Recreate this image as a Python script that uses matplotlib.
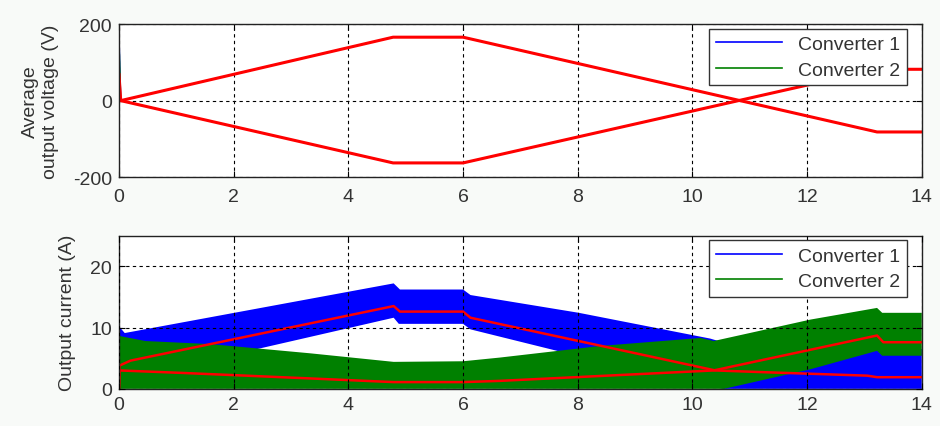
import numpy as np
import matplotlib
matplotlib.use("Agg")
import matplotlib.pyplot as plt
from matplotlib.lines import Line2D

plt.rcParams["font.family"] = ["Liberation Sans", "DejaVu Sans"]
plt.rcParams["axes.unicode_minus"] = False
FS = 14
TXT = "#333333"
BLUE, GREEN, RED = "#0000ff", "#008000", "#ff0000"

# ---- top panel: average output voltage (V) ----
volt_t = [0, 0.03, 4.78, 6.0, 13.22, 14.0]
volt_c1 = [171, 0, 166, 166, -82, -82]      # converter 1 (mostly under red)
volt_c2 = [160, 0, -163, -163, 82, 82]      # converter 2 (mostly under red)
volt_avg1 = [68, 0, 166, 166, -82, -82]     # red reference
volt_avg2 = [0, 0, -163, -163, 82, 82]

# ---- bottom panel: output current (A), ripple envelopes ----
c1_up_t = [0, 0.1, 4.79, 4.9, 6.0, 6.13, 8.02, 10.31, 10.6, 13.22, 13.31, 14]
c1_up = [10.2, 9.1, 17.2, 16.2, 16.2, 15.3, 12.4, 8.2, 7.4, 7.0, 6.5, 6.5]
c1_lo_t = [0, 0.1, 2.46, 3.16, 4.79, 4.88, 6.0, 6.13, 7.64, 10.55, 14]
c1_lo = [1.5, 1.5, 6.6, 8.1, 11.6, 10.6, 10.6, 9.7, 6.2, 0, 0]

c2_up_t = [0, 0.02, 0.46, 1.59, 3.33, 4.79, 6.0, 6.64, 8.4, 10.14, 10.37, 12.06, 13.22, 13.31, 14]
c2_up = [9.8, 8.6, 7.8, 7.3, 5.8, 4.4, 4.5, 5.1, 7.0, 8.3, 7.8, 11.3, 13.2, 12.4, 12.4]
c2_lo_t = [0, 10.55, 12.06, 13.22, 13.31, 14]
c2_lo = [0, 0, 3.2, 6.2, 5.4, 5.4]

i1_t = [0, 0.01, 0.2, 4.79, 4.9, 6.0, 6.13, 10.4, 11.3, 13.05, 13.22, 14]
i1_avg = [0, 3.8, 4.6, 13.5, 12.6, 12.6, 11.6, 3.0, 2.7, 2.15, 1.9, 1.9]
i2_t = [0, 0.01, 1.1, 3.33, 4.79, 6.0, 6.64, 10.37, 13.22, 13.33, 14]
i2_avg = [0, 3.0, 2.6, 1.7, 1.1, 1.1, 1.3, 3.0, 8.7, 7.6, 7.6]

labels = ["Converter 1", "Converter 2"]


def style(ax, ylim, yticks):
    ax.set_xlim(0, 14); ax.set_ylim(*ylim)
    ax.set_xticks(range(0, 15, 2)); ax.set_yticks(yticks)
    ax.grid(True, color="black", ls=(0, (3, 3)), lw=0.8)
    ax.tick_params(direction="in", top=True, right=True, length=4, labelsize=FS,
                   labelcolor=TXT, pad=5)
    for s in ax.spines.values():
        s.set_linewidth(1.0); s.set_color("#222222")


def legend(ax):
    h = [Line2D([], [], color=BLUE, lw=1.2), Line2D([], [], color=GREEN, lw=1.2)]
    lg = ax.legend(h, labels, loc="upper right", bbox_to_anchor=(0.981, 0.97), fontsize=FS,
                   fancybox=False, framealpha=1, edgecolor="#333333", handlelength=3.4,
                   borderaxespad=0, labelspacing=0.4, borderpad=0.35, labelcolor=TXT)
    lg.get_frame().set_linewidth(1.0)


fig = plt.figure(figsize=(9.4, 4.27), dpi=100, facecolor="#f8faf8")
ax1 = fig.add_axes([0.1266, 0.583, 0.854, 0.358])
ax2 = fig.add_axes([0.1266, 0.087, 0.854, 0.359])

ax1.plot(volt_t, volt_c1, color=BLUE, lw=1)
ax1.plot(volt_t, volt_c2, color=GREEN, lw=1)
ax1.plot(volt_t, volt_avg1, color=RED, lw=2.2)
ax1.plot(volt_t, volt_avg2, color=RED, lw=2.2)
style(ax1, (-200, 200), [-200, 0, 200])
ax1.tick_params(axis="x", pad=8)
ax1.set_ylabel("Average\noutput voltage (V)", fontsize=FS, color=TXT, labelpad=10)
legend(ax1)

ax2.fill(np.r_[c1_up_t, c1_lo_t[::-1]], np.r_[c1_up, c1_lo[::-1]], color=BLUE, lw=0)
ax2.fill(np.r_[c2_up_t, c2_lo_t[::-1]], np.r_[c2_up, c2_lo[::-1]], color=GREEN, lw=0)
ax2.plot(i1_t, i1_avg, color=RED, lw=1.8)
ax2.plot(i2_t, i2_avg, color=RED, lw=1.8)
style(ax2, (0, 25), [0, 10, 20])
ax2.set_axisbelow(False)
ax2.set_ylabel("Output current (A)", fontsize=FS, color=TXT, labelpad=10)
legend(ax2)

fig.savefig("out.png", dpi=100, facecolor=fig.get_facecolor())
